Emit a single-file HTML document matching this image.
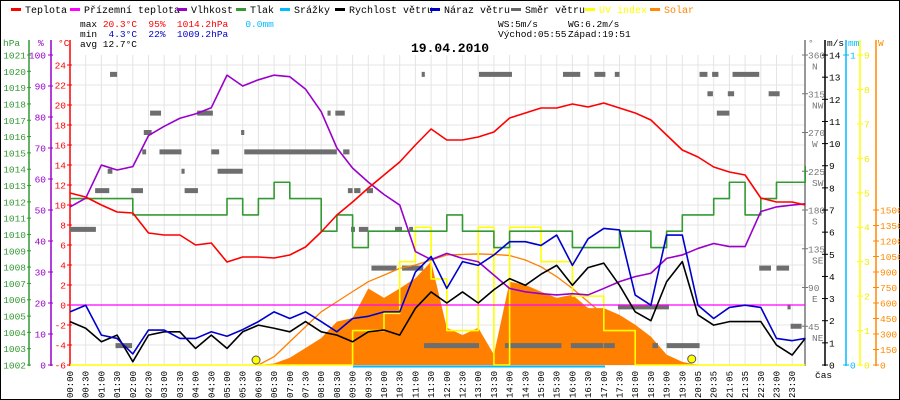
<!DOCTYPE html>
<html><head><meta charset="utf-8"><style>
html,body{margin:0;padding:0;background:#fff}
svg{display:block;font-family:"Liberation Mono","DejaVu Sans Mono",monospace}
</style></head><body>
<svg id="c" width="900" height="400" viewBox="0 0 900 400">
<rect x="0.5" y="0.5" width="899" height="399" fill="#fff" stroke="#000"/>
<g id="grid"></g>
<g id="legend" font-size="10">
 <rect x="11" y="8" width="10" height="3" fill="#f00"/><text x="25" y="13">Teplota</text>
 <rect x="70" y="8" width="10" height="3" fill="#f0f"/><text x="84" y="13">Přízemní teplota</text>
 <rect x="177" y="8" width="10" height="3" fill="#90c"/><text x="191" y="13">Vlhkost</text>
 <rect x="236" y="8" width="10" height="3" fill="#393"/><text x="250" y="13">Tlak</text>
 <rect x="280" y="8" width="10" height="3" fill="#0bf"/><text x="294" y="13">Srážky</text>
 <rect x="335" y="8" width="10" height="3" fill="#000"/><text x="349" y="13">Rychlost větru</text>
 <rect x="430" y="8" width="10" height="3" fill="#00c"/><text x="444" y="13">Náraz větru</text>
 <rect x="511" y="8" width="10" height="3" fill="#666"/><text x="525" y="13">Směr větru</text>
 <rect x="585" y="8" width="10" height="3" fill="#ff0"/><text x="599" y="13" fill="#ff0">UV index</text>
 <rect x="650" y="8" width="10" height="3" fill="#f80"/><text x="664" y="13" fill="#f80">Solar</text>
</g>
<g font-size="9.5">
 <text x="80" y="27" xml:space="preserve">max <tspan fill="#f00">20.3°C  95%  1014.2hPa</tspan>   <tspan fill="#0bf">0.0mm</tspan></text>
 <text x="80" y="37" xml:space="preserve">min  <tspan fill="#00c">4.3°C  22%  1009.2hPa</tspan></text>
 <text x="80" y="47">avg 12.7°C</text>
 <text x="498" y="27">WS:5m/s</text><text x="568" y="27">WG:6.2m/s</text>
 <text x="498" y="37">Východ:05:55</text><text x="568" y="37">Západ:19:51</text>
</g>
<text x="450" y="52" text-anchor="middle" font-size="13" font-weight="bold">19.04.2010</text>
<g id="axes"></g>
<g id="series"></g>
</svg>
<script>
const timeLabels=["00:00","00:30","01:00","01:30","02:00","02:30","03:00","03:30","04:00","04:30","05:00","05:30","06:00","06:30","07:00","07:30","08:00","08:30","09:00","09:30","10:00","10:30","11:00","11:30","12:00","12:30","13:00","13:30","14:00","14:30","15:00","15:30","16:00","16:30","17:00","17:30","18:00","18:30","19:00","19:30","20:05","20:35","21:05","21:35","22:30","23:00","23:30"];
const temperature=[11.2,10.8,10,9.3,9.2,7.2,7,7,6,6.2,4.3,4.8,4.8,4.7,5,5.8,7.3,9,10.3,11.7,13,14.3,16,17.6,16.5,16.5,16.8,17.3,18.7,19.2,19.7,19.7,20.1,19.8,20.2,19.7,19.2,18.5,17,15.5,14.8,13.8,13.3,13,10.7,10.3,10.3,10];
const groundTemp=[0,0,0,0,0,0,0,0,0,0,0,0,0,0,0,0,0,0,0,0,0,0,0,0,0,0,0,0,0,0,0,0,0,0,0,0,0,0,0,0,0,0,0,0,0,0,0,0];
const humidity=[51,53.8,64.5,62.9,64,74,77,79.6,81,83,93.5,90,92,93.5,93,89,81.7,70,63.5,59,55,51.6,36.6,34,36,34.4,33.3,29,24.7,23.6,23,22.6,23,22.6,24.7,26.9,28.5,29.6,34.4,35.5,37.6,39.2,38.2,38.2,49.5,51,51.6,52];
const pressure=[1012.2,1012.2,1012.2,1012.2,1011.2,1011.2,1011.2,1011.2,1011.2,1011.2,1012.2,1011.2,1012.2,1013.2,1012.2,1012.2,1010.2,1011.2,1009.2,1010.2,1010.2,1010.2,1010.2,1010.2,1011.2,1010.2,1010.2,1009.2,1010.2,1010.2,1010.2,1010.2,1009.2,1009.2,1009.2,1010.2,1010.2,1009.2,1010.2,1011.2,1011.2,1012.2,1013.2,1011.2,1012.2,1013.2,1013.2,1014.2];
const windSpeed=[1.96,1.66,1.05,1.35,0.15,1.35,1.5,1.5,0.75,1.35,0.75,1.5,1.8,1.66,1.5,1.96,1.5,1.35,1.05,1.5,1.58,1.35,2.56,3.3,2.8,3.3,2.8,3.4,3.9,3.6,4.1,4.5,3.6,4.4,4.6,3.6,2.4,2,3.76,4.67,2.26,1.8,1.96,1.96,1.96,0.9,0.45,1.2];
const windGust=[2.4,2.7,1.35,1.2,0.5,1.58,1.58,1.2,1.2,1.5,1.3,1.6,1.96,2.4,2.1,2.4,1.96,1.5,2.1,2.2,2.4,2.4,4.2,4.9,3.46,4.67,4.5,4.97,5.57,5.57,5.4,5.87,4.5,5.7,6.17,6.1,3.16,2.7,5.87,5.87,2.7,2.1,2.6,2.7,2.6,1.2,1.1,1.2];
const solar=[0,0,0,0,0,0,0,0,0,0,0,0,0,15,70,165,260,420,455,740,650,740,840,1000,360,290,360,100,806,775,710,650,680,550,550,485,390,275,100,30,0,0,0,0,0,0,0,0];
const clearSky=[0,0,0,0,0,0,0,0,0,0,0,0,0,80,225,370,515,612,710,806,870,935,968,1016,1065,1070,1075,1070,1060,1016,950,855,740,612,485,360,240,145,65,10,0,0,0,0,0,0,0,0];
const uvIndex=[0,0,0,0,0,0,0,0,0,0,0,0,0,0,0,0,0,0,1,1,1.5,3,4,2.5,1,1,4,0,4,4,3,3,2,2,1,1,0,0,0,0,0,0,0,0,0,0,0,0];
const dirStart=[2.55,22.4,5.1,8.1,16.4,16.9,4.7,10.9,4.6,5.7,9.0,11.1,17.4,2.4,7.1,9.4,1.6,3.9,7.3,17.7,18.1,18.9,0,17.9,18.4,20.7,21.6,19.2,21.15,2.9,22.55,26.05,31.4,33.4,34.7,40.1,40.9,42.2,40.6,41.9,44.5,41.2,43.9,45.0,34.9,45.7,45.9,22.9,27.7,31.9,34.0,37.1,38.0];
const dirEnd=[3.0,22.6,5.8,9.1,16.6,17.5,5.2,11.1,4.85,7.1,9.5,17.0,17.8,2.7,7.3,11.0,2.5,4.65,8.15,18.0,18.5,19.3,1.65,18.15,19.0,21.15,21.85,20.8,22.5,3.95,23.45,28.15,32.5,34.1,35.0,40.6,41.3,43.9,40.95,42.3,45.2,42.0,44.65,45.8,38.15,45.9,46.6,26.05,31.3,33.95,34.7,37.45,40.1];
const dirDeg=[337.5,337.5,292.5,292.5,292.5,292.5,270,270,247.5,247.5,247.5,247.5,247.5,225,225,225,202.5,202.5,202.5,202.5,202.5,202.5,157.5,157.5,157.5,157.5,157.5,112.5,112.5,22.5,22.5,337.5,337.5,337.5,337.5,337.5,337.5,337.5,315,315,315,292.5,112.5,112.5,67.5,67.5,45,22.5,22.5,22.5,22.5,22.5,22.5];
const hpaTicks=[1002,1003,1004,1005,1006,1007,1008,1009,1010,1011,1012,1013,1014,1015,1016,1017,1018,1019,1020,1021];
const pctTicks=[0,10,20,30,40,50,60,70,80,90,100];
const tempTicks=[-6,-4,-2,0,2,4,6,8,10,12,14,16,18,20,22,24];
const dirTicks=[45,90,135,180,225,270,315,360];
const dirNames=["NE","E","SE","S","SW","W","NW","N"];
const msTicks=[0,1,2,3,4,5,6,7,8,9,10,11,12,13,14];
const uvTicks=[0,1,2,3,4,5,6,7,8,9];
const wTicks=[0,150,300,450,600,750,900,1050,1200,1350,1500];

const NS='http://www.w3.org/2000/svg';
const X=i=>70+(i>=47?46.83:i)*15.7;
const Xf=f=>70+f*15.7;
const Yt=t=>365-(t+6)*10;
const Yh=h=>365-h*3.1;
const Yp=p=>365-(p-1002)*16.316;
const Yv=v=>365-v*22.14;
const Ys=s=>365-s*155/1500;
const Yu=u=>365-u*34.44;
const Yd=d=>365-d*310/360;
function mk(tag,at,parent){const e=document.createElementNS(NS,tag);for(const k in at)e.setAttribute(k,at[k]);parent.appendChild(e);return e;}
const grid=document.getElementById('grid'),axes=document.getElementById('axes'),ser=document.getElementById('series');

timeLabels.forEach((l,i)=>{
 const g=mk('line',{x1:X(i),x2:X(i),y1:55,y2:365,stroke:'#e4e4e4'},grid);
 
 
 const t=mk('text',{x:0,y:0,'font-size':9,'text-anchor':'end',transform:`translate(${X(i)+3},371) rotate(-90)`},axes);
 t.textContent=l;
 
 
});
tempTicks.forEach(v=>{
 const g=mk('line',{x1:70,x2:805,y1:Yt(v),y2:Yt(v),stroke:'#e4e4e4'},grid);
 
 
});

function axis(x,y1,col,name){const a=mk('line',{x1:x,x2:x,y1:y1,y2:366,stroke:col,'stroke-width':1.5},axes);
 
 }
function tickLab(x,y,txt,col,anchor,name){const t=mk('text',{x:x,y:y+3.5,'font-size':9.5,fill:col,'text-anchor':anchor},axes);t.textContent=txt;
 
 
 return t;}
axis(29,40,'#393','hpa-axis');axis(51,40,'#90c','humidity-axis');axis(70,40,'#f00','temp-axis');
axis(805,40,'#777','direction-axis');axis(825,40,'#000','wind-axis');axis(846,40,'#0bf','rain-axis');axis(860,40,'#ff0','uv-axis');axis(876,40,'#f80','solar-axis');
hpaTicks.forEach(v=>{mk('line',{x1:27,x2:31,y1:Yp(v),y2:Yp(v),stroke:'#393'},axes);tickLab(26,Yp(v),v,'#393','end','hpa-tick-label');});
pctTicks.forEach(v=>{mk('line',{x1:48,x2:53,y1:Yh(v),y2:Yh(v),stroke:'#90c'},axes);tickLab(46,Yh(v),v,'#90c','end','humidity-tick-label');});
tempTicks.forEach(v=>{mk('line',{x1:67,x2:72,y1:Yt(v),y2:Yt(v),stroke:'#f00'},axes);tickLab(66,Yt(v),v,'#f00','end','temp-tick-label');});
dirTicks.forEach((v,k)=>{mk('line',{x1:802,x2:808,y1:Yd(v),y2:Yd(v),stroke:'#777'},axes);tickLab(808,Yd(v),v,'#777','start','direction-tick-label');tickLab(812,Yd(v)+11,dirNames[k],'#777','start','direction-name-label');});
msTicks.forEach(v=>{mk('line',{x1:822,x2:828,y1:Yv(v),y2:Yv(v),stroke:'#000'},axes);tickLab(829,Yv(v),v,'#000','start','wind-tick-label');});
[0,1].forEach(v=>{const y=v?55:365;mk('line',{x1:843,x2:849,y1:y,y2:y,stroke:'#0bf'},axes);tickLab(850,y,v,'#0bf','start','rain-tick-label');});
uvTicks.forEach(v=>{mk('line',{x1:857,x2:863,y1:Yu(v),y2:Yu(v),stroke:'#ff0'},axes);tickLab(864,Yu(v),v,'#ee0','start','uv-tick-label');});
wTicks.forEach(v=>{mk('line',{x1:873,x2:879,y1:Ys(v),y2:Ys(v),stroke:'#f80'},axes);tickLab(880,Ys(v),v,'#f80','start','solar-tick-label');});
[[3,'hPa','#393'],[38,'%','#90c'],[58,'°C','#f00'],[808,'°','#777'],[827,'m/s','#000'],[848,'mm','#0bf'],[878,'W','#f80']].forEach(([x,t,c])=>{
 const e=mk('text',{x:x,y:46,'font-size':9.5,fill:c},axes);e.textContent=t;
 
 });
const cas=mk('text',{x:815,y:378,'font-size':9.5},axes);cas.textContent='čas';



let d=`M${X(0)},365`;solar.forEach((v,i)=>d+=`L${X(i)},${Ys(v)}`);d+=`L${X(47)},365Z`;
const sa=mk('path',{d:d,fill:'#ff8000'},ser);



dirDeg.forEach((v,k)=>{const r=mk('rect',{x:Xf(dirStart[k]),y:Yd(v)-2.5,width:Math.max(3,Xf(dirEnd[k])-Xf(dirStart[k])),height:5,fill:'#6e6e6e'},ser);
 
 });

const rn=mk('line',{x1:353,x2:605,y1:366.5,y2:366.5,stroke:'#0bf','stroke-width':2},ser);



function line(arr,yf,col,name,step,from,to){
 from=from||0;to=to===undefined?arr.length-1:to;
 let p='';for(let i=from;i<=to;i++){const x=X(i),y=yf(arr[i]);
  if(i===from)p+=`M${x},${y}`;else if(step)p+=`L${x},${yf(arr[i-1])}L${x},${y}`;else p+=`L${x},${y}`;}
 const e=mk('path',{d:p,fill:'none',stroke:col,'stroke-width':1.6,'stroke-linejoin':'round'},ser);
 
 
 return e;}
line(clearSky,Ys,'#ff8000','clear-sky-solar-line',false,12,40).setAttribute('stroke-width',1.3);
line(uvIndex,Yu,'#ffff00','uv-index-line',true);
line(pressure,Yp,'#339933','pressure-line',true);
line(groundTemp,Yt,'#ff00ff','ground-temp-line').setAttribute('stroke-width',1.2);
line(humidity,Yh,'#9900cc','humidity-line');
line(temperature,Yt,'#ff0000','temperature-line');
line(windSpeed,Yv,'#000000','wind-speed-line',false);
line(windGust,Yv,'#0000cc','wind-gust-line',false);

[[11.85,360,'sunrise-marker'],[39.6,359,'sunset-marker']].forEach(([f,y,n])=>{
 const c=mk('circle',{cx:Xf(f),cy:y,r:4,fill:'#ff0',stroke:'#555'},ser);
 
 });
</script>
</body></html>
